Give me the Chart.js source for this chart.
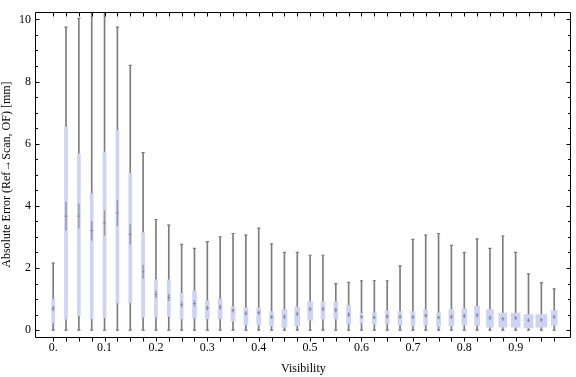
<!DOCTYPE html>
<html>
<head>
<meta charset="utf-8">
<script src="https://cdn.jsdelivr.net/npm/chart.js@4.4.1/dist/chart.umd.min.js"></script>
<style>
  html, body { margin: 0; padding: 0; background: #fff; }
  #wrap { width: 576px; height: 377px; }
</style>
</head>
<body>
<div id="wrap"><canvas id="boxChart" width="576" height="377"></canvas></div>
<script>
// values (mm)
const visibility = [0, 0.025, 0.05, 0.075, 0.1, 0.125, 0.15, 0.175, 0.2, 0.225,
                    0.25, 0.275, 0.3, 0.325, 0.35, 0.375, 0.4, 0.425, 0.45, 0.475,
                    0.5, 0.525, 0.55, 0.575, 0.6, 0.625, 0.65, 0.675, 0.7, 0.725,
                    0.75, 0.775, 0.8, 0.825, 0.85, 0.875, 0.9, 0.925, 0.95, 0.975]
const whiskerLow = [0, 0, 0, 0, 0, 0, 0, 0, 0, 0,
                    0, 0, 0, 0, 0, 0, 0, 0, 0, 0,
                    0, 0, 0, 0, 0, 0, 0, 0, 0, 0,
                    0, 0, 0, 0, 0, 0, 0, 0, 0, 0]
const quart1 = [0.24, 0.35, 0.47, 0.37, 0.40, 0.88, 0.88, 0.42, 0.42, 0.44,
                0.36, 0.39, 0.36, 0.36, 0.29, 0.18, 0.16, 0.14, 0.10, 0.14,
                0.32, 0.35, 0.36, 0.20, 0.23, 0.19, 0.20, 0.17, 0.14, 0.17,
                0.12, 0.14, 0.17, 0.15, 0.10, 0.10, 0.10, 0.07, 0.10, 0.15]
const medians = [0.69, 3.67, 3.67, 3.20, 3.45, 3.77, 3.08, 1.88, 1.15, 1.05,
                 0.82, 0.86, 0.71, 0.74, 0.63, 0.54, 0.56, 0.42, 0.43, 0.52,
                 0.68, 0.68, 0.65, 0.50, 0.43, 0.41, 0.44, 0.43, 0.42, 0.47,
                 0.41, 0.43, 0.46, 0.48, 0.40, 0.37, 0.39, 0.32, 0.33, 0.43]
const quart3 = [0.99, 6.53, 5.67, 4.39, 5.73, 6.42, 5.05, 3.14, 1.62, 1.62,
                1.19, 1.26, 0.94, 1.00, 0.75, 0.72, 0.72, 0.60, 0.66, 0.74,
                0.91, 0.91, 0.91, 0.80, 0.53, 0.56, 0.63, 0.60, 0.60, 0.66,
                0.56, 0.66, 0.69, 0.77, 0.66, 0.55, 0.55, 0.50, 0.50, 0.63]
const whiskerHigh = [2.16, 9.75, 10.03, 10.8, 11.5, 9.75, 8.52, 5.71, 3.56, 3.38,
                     2.76, 2.63, 2.85, 3.00, 3.11, 3.06, 3.28, 2.78, 2.50, 2.50,
                     2.41, 2.41, 1.50, 1.54, 1.59, 1.59, 1.59, 2.07, 2.92, 3.06,
                     3.11, 2.73, 2.50, 2.94, 2.63, 3.03, 2.50, 1.81, 1.53, 1.33]
const xTickLabels = [0, 0.1, 0.2, 0.3, 0.4, 0.5, 0.6, 0.7, 0.8, 0.9]
const yTickLabels = [0, 2, 4, 6, 8, 10]

// box widths in px (style only)
const boxWidthPx = [3, 3, 3, 3, 3, 3, 3, 3, 3, 3,
                    3, 4, 4, 4, 4, 4, 4, 4, 5, 5,
                    5, 4, 4, 4, 3, 4, 4, 4, 4, 4,
                    4, 5, 5, 5, 7, 8, 9, 9, 11, 6]

const boxColor = 'rgb(204, 211, 245)'
const whiskerColor = 'rgb(125, 125, 125)'
const medianColor = 'rgba(95, 95, 105, 0.5)'
const serif = 'Liberation Serif'

const widthGroups = [...new Set(boxWidthPx)]
const boxSets = widthGroups.map(w => ({
    type: 'bar',
    data: visibility
        .map((v, i) => boxWidthPx[i] === w ? {x: v, y: [quart1[i], quart3[i]]} : null)
        .filter(d => d !== null),
    backgroundColor: boxColor,
    barThickness: w,
    grouped: false,
    order: 2
}))

const frameTicks = {
    id: 'frameTicks',
    afterDatasetsDraw(chart) {
        const {ctx, chartArea: a, scales: {x, y}} = chart
        const l = Math.round(a.left) - 0.5, r = Math.round(a.right) - 0.5
        const t = Math.round(a.top) + 0.5, b = Math.round(a.bottom) + 0.5
        ctx.save()
        ctx.strokeStyle = '#000'
        ctx.lineWidth = 1
        ctx.beginPath()
        ctx.moveTo(l, t); ctx.lineTo(r, t); ctx.lineTo(r, b); ctx.lineTo(l, b); ctx.closePath()
        visibility.forEach(v => {
            const px = Math.round(x.getPixelForValue(v)) + 0.5
            ctx.moveTo(px, t); ctx.lineTo(px, t + 4)
            ctx.moveTo(px, b); ctx.lineTo(px, b + 4)
        })
        for (let i = 0; i <= 20; i++) {
            const py = Math.round(y.getPixelForValue(i / 2)) + 0.5
            const len = i % 4 === 0 ? 4 : 2.5
            ctx.moveTo(l, py); ctx.lineTo(l + len, py)
            ctx.moveTo(r, py); ctx.lineTo(r - len, py)
        }
        ctx.stroke()
        ctx.restore()
    }
}

const config = {
    type: 'bar',
    data: {
        datasets: [
            {
                type: 'bar',
                data: visibility.map((v, i) => ({x: v, y: [whiskerLow[i], whiskerHigh[i]]})),
                backgroundColor: whiskerColor,
                barThickness: 1,
                grouped: false,
                order: 3
            },
            ...boxSets,
            {
                type: 'scatter',
                data: visibility.map((v, i) => ({x: v, y: whiskerHigh[i]}))
                    .concat(visibility.map((v, i) => ({x: v, y: whiskerLow[i]}))),
                pointStyle: 'line',
                radius: 1.6,
                borderColor: whiskerColor,
                borderWidth: 1.2,
                order: 1
            },
            {
                type: 'scatter',
                data: visibility.map((v, i) => ({x: v, y: medians[i]})),
                pointStyle: 'line',
                rotation: 90,
                radius: ctx => {
                    const i = ctx.dataIndex
                    const sc = ctx.chart.scales.y
                    const h = sc.getPixelForValue(quart1[i]) - sc.getPixelForValue(quart3[i])
                    return 1 + 0.07 * h
                },
                borderColor: medianColor,
                borderWidth: 1.4,
                order: 1
            },
            {
                type: 'scatter',
                data: visibility.map((v, i) => ({x: v, y: medians[i]})),
                pointStyle: 'line',
                radius: 1.5,
                borderColor: medianColor,
                borderWidth: 1,
                order: 1
            }
        ]
    },
    options: {
        responsive: false,
        animation: false,
        devicePixelRatio: 1,
        layout: { padding: { top: 4, right: 1, left: 0, bottom: 0 } },
        plugins: { legend: { display: false }, tooltip: { enabled: false } },
        scales: {
            x: {
                type: 'linear',
                offset: false,
                min: -0.0334,
                max: 1.0073,
                grid: { display: false, drawTicks: false, offset: false },
                border: { display: false },
                afterBuildTicks: s => { s.ticks = xTickLabels.map(v => ({value: v})) },
                afterFit: s => { s.height = 40 },
                ticks: {
                    autoSkip: false,
                    maxRotation: 0,
                    padding: 4,
                    color: '#000',
                    font: { family: serif, size: 12 },
                    callback: v => v === 0 ? '0.' : Number(v).toFixed(1)
                },
                title: {
                    display: true,
                    text: 'Visibility',
                    color: '#000',
                    font: { family: serif, size: 12 },
                    padding: { top: 0, bottom: 1 }
                }
            },
            y: {
                min: -0.22,
                max: 10.23,
                grid: { display: false, drawTicks: false },
                border: { display: false },
                afterBuildTicks: s => { s.ticks = yTickLabels.map(v => ({value: v})) },
                afterFit: s => { s.width = 36 },
                ticks: {
                    padding: 5,
                    color: '#000',
                    font: { family: serif, size: 12 }
                },
                title: {
                    display: true,
                    text: 'Absolute Error (Ref→Scan, OF) [mm]',
                    color: '#000',
                    font: { family: serif, size: 12 },
                    padding: 0
                }
            }
        }
    },
    plugins: [frameTicks]
}

const boxChart = new Chart(document.getElementById('boxChart'), config)
</script>
</body>
</html>
